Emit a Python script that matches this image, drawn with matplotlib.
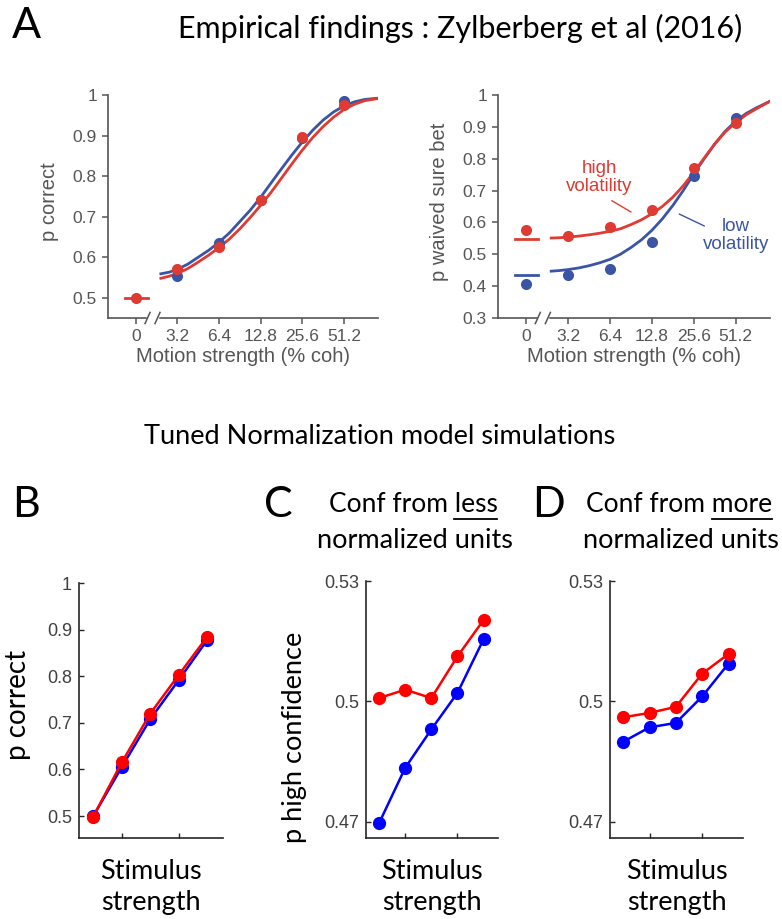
import matplotlib
matplotlib.use("Agg")
import matplotlib.pyplot as plt

# ---- panel A data (x = position on log2 coherence axis, 0 = "0%")
coh_labels = ["0", "3.2", "6.4", "12.8", "25.6", "51.2"]
coh_pos = [0, 1, 2, 3, 4, 5]

acc_blue = [0.553, 0.635, 0.740, 0.895, 0.985]          # 3.2 .. 51.2
acc_red = [0.500, 0.570, 0.625, 0.742, 0.896, 0.975]    # 0 .. 51.2

fit_pos = [0.6, 0.8, 1.0, 1.25, 1.5, 1.75, 2.0, 2.25, 2.5, 2.75, 3.0,
           3.25, 3.5, 3.75, 4.0, 4.25, 4.5, 4.75, 5.0, 5.25, 5.5, 5.8]
acc_fit_blue = [0.559, 0.563, 0.570, 0.583, 0.600, 0.617, 0.637, 0.660, 0.688,
                0.716, 0.748, 0.783, 0.818, 0.852, 0.884, 0.913, 0.938, 0.958,
                0.973, 0.983, 0.989, 0.992]
acc_fit_red = [0.548, 0.553, 0.560, 0.572, 0.588, 0.605, 0.624, 0.645, 0.670,
               0.698, 0.728, 0.760, 0.795, 0.830, 0.864, 0.895, 0.922, 0.945,
               0.964, 0.977, 0.986, 0.991]

sure_red = [0.575, 0.557, 0.587, 0.640, 0.770, 0.913]
sure_blue = [0.406, 0.434, 0.453, 0.540, 0.747, 0.929]
sure_zero_red = 0.548
sure_zero_blue = 0.435
sure_fit_red = [0.551, 0.552, 0.554, 0.557, 0.561, 0.566, 0.572, 0.580, 0.593,
                0.608, 0.627, 0.650, 0.679, 0.715, 0.757, 0.802, 0.846, 0.884,
                0.913, 0.938, 0.957, 0.979]
sure_fit_blue = [0.447, 0.449, 0.452, 0.457, 0.464, 0.473, 0.484, 0.500, 0.521,
                 0.545, 0.575, 0.611, 0.653, 0.700, 0.752, 0.800, 0.846, 0.886,
                 0.918, 0.942, 0.960, 0.979]

# ---- model simulations (B, C, D)
stim = [1, 2, 3, 4, 5]
pc_blue = [0.500, 0.605, 0.708, 0.792, 0.878]
pc_red = [0.499, 0.615, 0.720, 0.803, 0.885]
less_blue = [0.4696, 0.4834, 0.4930, 0.5021, 0.5155]
less_red = [0.5008, 0.5029, 0.5008, 0.5112, 0.5203]
more_blue = [0.4899, 0.4935, 0.4946, 0.5012, 0.5094]
more_red = [0.4960, 0.4971, 0.4986, 0.5069, 0.5118]

BLUE_A = "#3a55a5"
RED_A = "#df3b32"
GREY = "#555555"
W, H = 782, 919
TXT = 19.5  # Calibri-ish text size in the lower panels

fig = plt.figure(figsize=(W / 100, H / 100), dpi=100)


def px_axes(x0, y0, x1, y1):
    return fig.add_axes([x0 / W, 1 - y1 / H, (x1 - x0) / W, (y1 - y0) / H])


def style_a(ax, ylo, yticks, ylabel):
    ax.set_xlim(-0.67, 5.82)
    ax.set_ylim(ylo, 1.0)
    for s in ["top", "right"]:
        ax.spines[s].set_visible(False)
    for s in ["left", "bottom"]:
        ax.spines[s].set_color(GREY)
        ax.spines[s].set_linewidth(1.2)
    ax.set_xticks(coh_pos)
    ax.set_xticklabels(coh_labels)
    ax.set_yticks(yticks)
    ax.set_yticklabels(["1" if t == 1 else "%.1f" % t for t in yticks])
    ax.tick_params(direction="out", length=4, width=1.1, color=GREY,
                   labelcolor=GREY, labelsize=12.5, pad=4)
    for lab in ax.get_xticklabels() + ax.get_yticklabels():
        lab.set_family("Liberation Sans")
    ax.set_xlabel("Motion strength (% coh)", color=GREY, fontsize=14.5,
                  family="Liberation Sans", labelpad=2)
    ax.set_ylabel(ylabel, color=GREY, fontsize=14.5, family="Liberation Sans")
    ax.yaxis.set_label_coords(-0.18, 0.52)
    # axis break marks
    tr = ax.get_xaxis_transform()
    ax.plot([0.30, 0.50], [0, 0], color="white", lw=2.5, transform=tr,
            clip_on=False, zorder=5)
    for xb in [0.28, 0.52]:
        ax.plot([xb - 0.06, xb + 0.06], [-0.025, 0.025], color=GREY, lw=1.1,
                transform=tr, clip_on=False, zorder=6)


# ---- A left: accuracy
ax1 = px_axes(108, 95, 378, 318)
ax1.plot(fit_pos, acc_fit_blue, color=BLUE_A, lw=2)
ax1.plot(fit_pos, acc_fit_red, color=RED_A, lw=2)
ax1.plot(coh_pos[1:], acc_blue, "o", color=BLUE_A, ms=8, mec="none")
ax1.plot(coh_pos, acc_red, "o", color=RED_A, ms=8, mec="none")
ax1.plot([-0.27, 0.29], [acc_red[0], acc_red[0]], color=RED_A, lw=2)
style_a(ax1, 0.45, [0.5, 0.6, 0.7, 0.8, 0.9, 1.0], "p correct")

# ---- A right: waived sure bet
ax2 = px_axes(498, 95, 770, 318)
ax2.plot(fit_pos, sure_fit_blue, color=BLUE_A, lw=2)
ax2.plot(fit_pos, sure_fit_red, color=RED_A, lw=2)
ax2.plot([-0.27, 0.29], [sure_zero_red] * 2, color=RED_A, lw=2)
ax2.plot([-0.27, 0.29], [sure_zero_blue] * 2, color=BLUE_A, lw=2)
ax2.plot(coh_pos, sure_blue, "o", color=BLUE_A, ms=8, mec="none")
ax2.plot(coh_pos, sure_red, "o", color=RED_A, ms=8, mec="none")
style_a(ax2, 0.3, [0.3, 0.4, 0.5, 0.6, 0.7, 0.8, 0.9, 1.0], "p waived sure bet")
ax2.text(1.75, 0.742, "high\nvolatility", color=RED_A, fontsize=13.5,
         family="Liberation Sans", ha="center", va="center", linespacing=1.1)
ax2.plot([2.05, 2.5], [0.668, 0.633], color=RED_A, lw=1)
ax2.text(5.0, 0.558, "low\nvolatility", color=BLUE_A, fontsize=13.5,
         family="Liberation Sans", ha="center", va="center", linespacing=1.1)
ax2.plot([3.66, 4.25], [0.626, 0.589], color=BLUE_A, lw=1)


# ---- B, C, D
def style_m(ax, ylim, yticks, yticklabels):
    ax.set_xlim(0.5, 5.55)
    ax.set_ylim(*ylim)
    for s in ["top", "right"]:
        ax.spines[s].set_visible(False)
    for s in ["left", "bottom"]:
        ax.spines[s].set_color("#262626")
        ax.spines[s].set_linewidth(1.2)
    ax.set_xticks([2, 4])
    ax.set_xticklabels([])
    ax.set_yticks(yticks)
    ax.set_yticklabels(yticklabels)
    ax.tick_params(direction="in", length=3.5, width=1, color="#262626",
                   labelcolor="#404040", labelsize=13, pad=5)
    for lab in ax.get_yticklabels():
        lab.set_family("Liberation Sans")
    ax.set_xlabel("Stimulus\nstrength", fontsize=TXT, family="Lato",
                  linespacing=1.3, labelpad=10)


axB = px_axes(79, 583, 223, 838)
axB.plot(stim, pc_blue, "-o", color="blue", lw=1.8, ms=8.5)
axB.plot(stim, pc_red, "-o", color="red", lw=1.8, ms=8.5)
style_m(axB, (0.453, 1.0), [0.5, 0.6, 0.7, 0.8, 0.9, 1.0],
        ["0.5", "0.6", "0.7", "0.8", "0.9", "1"])
axB.set_ylabel("p correct", fontsize=TXT + 0.5, family="Lato")
axB.yaxis.set_label_coords(-0.33, 0.52)

axC = px_axes(366, 581, 498, 838)
axC.plot(stim, less_blue, "-o", color="blue", lw=1.8, ms=8.5)
axC.plot(stim, less_red, "-o", color="red", lw=1.8, ms=8.5)
style_m(axC, (0.4659, 0.53), [0.47, 0.5, 0.53], ["0.47", "0.5", "0.53"])
axC.set_ylabel("p high confidence", fontsize=TXT, family="Lato")
axC.yaxis.set_label_coords(-0.45, 0.39)

axD = px_axes(610, 581, 743, 838)
axD.plot(stim, more_blue, "-o", color="blue", lw=1.8, ms=8.5)
axD.plot(stim, more_red, "-o", color="red", lw=1.8, ms=8.5)
style_m(axD, (0.4659, 0.53), [0.47, 0.5, 0.53], ["0.47", "0.5", "0.53"])

# ---- figure texts
def ftext(x, y, s, **kw):
    return fig.text(x / W, 1 - y / H, s, **kw)


ftext(26, 26, "A", fontsize=31, family="Lato", ha="center", va="center")
ftext(460, 28, "Empirical findings : Zylberberg et al (2016)", fontsize=22,
      family="Lato", ha="center", va="center")
ftext(380, 437, "Tuned Normalization model simulations", fontsize=19.5,
      family="Lato", ha="center", va="center")
ftext(26, 505, "B", fontsize=31, family="Lato", ha="center", va="center")
ftext(278, 505, "C", fontsize=31, family="Lato", ha="center", va="center")
ftext(548, 505, "D", fontsize=31, family="Lato", ha="center", va="center")

underlined = []
for cx, word in [(413, "less"), (679, "more")]:
    head = ftext(cx, 505, "Conf from " + word, fontsize=TXT - 0.5,
                 family="Lato", ha="center", va="center")
    ftext(cx + 2, 540, "normalized units", fontsize=TXT, family="Lato",
          ha="center", va="center")
    underlined.append((head, word))

fig.canvas.draw()
r = fig.canvas.get_renderer()
for head, word in underlined:
    bb = head.get_window_extent(r)
    probe = fig.text(0, 0, word, fontsize=TXT - 0.5, family="Lato")
    wb = probe.get_window_extent(r)
    probe.remove()
    x1 = bb.x1 / W
    x0 = (bb.x1 - wb.width) / W
    yy = (bb.y0 - 1) / H
    fig.add_artist(plt.Line2D([x0, x1], [yy, yy], color="black", lw=1.3,
                              transform=fig.transFigure))

fig.savefig("out.png", dpi=100)
